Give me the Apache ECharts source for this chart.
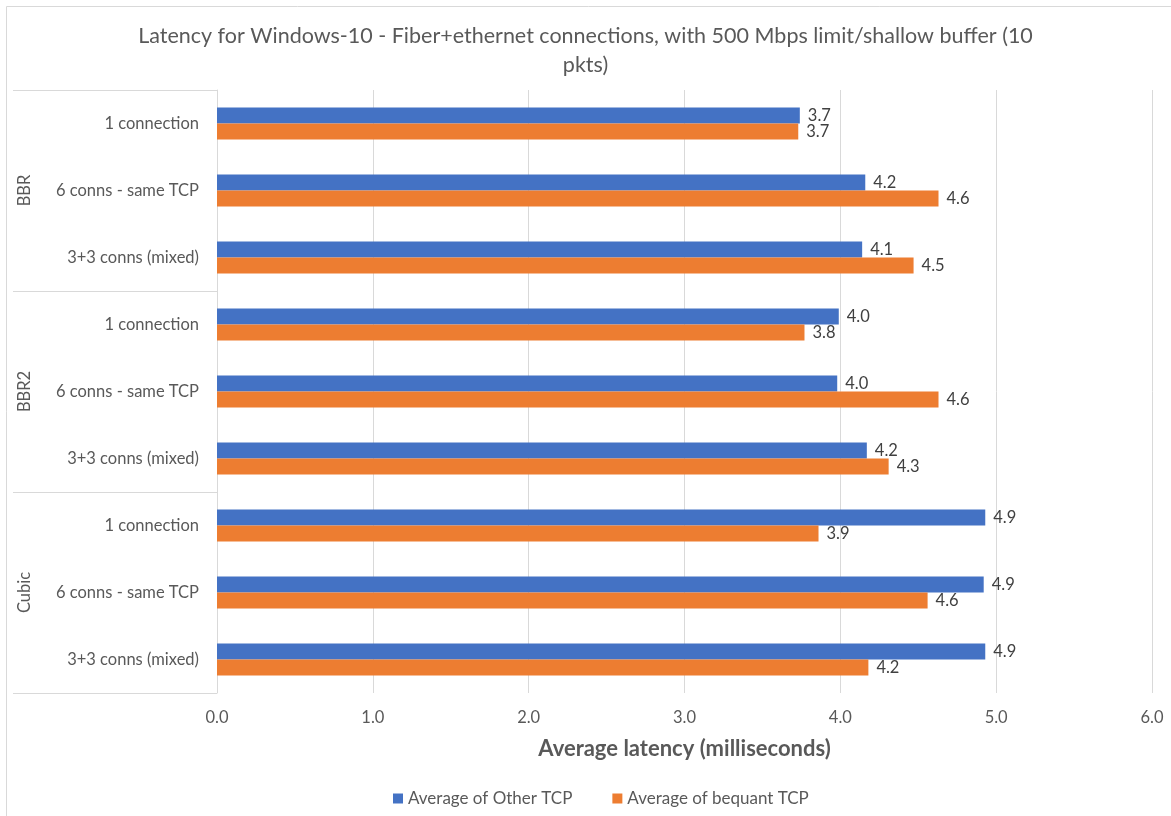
<!DOCTYPE html>
<html>
<head>
<meta charset="utf-8">
<script src="https://cdn.jsdelivr.net/npm/echarts@6/dist/echarts.min.js"></script>
<style>
  html, body { margin: 0; padding: 0; background: #fff; }
  #chart { width: 1171px; height: 816px; }
</style>
</head>
<body>
<div id="chart"></div>
<script>
  // row labels, top to bottom
  const groups = ['BBR', 'BBR2', 'Cubic'];
  const subCats = ['1 connection', '6 conns - same TCP', '3+3 conns (mixed)'];
  const rowLabels = [].concat(subCats, subCats, subCats);

  // average latency in ms
  const otherTcp = [3.74, 4.16, 4.14, 3.99, 3.98, 4.17, 4.93, 4.92, 4.93];
  const bequantTcp = [3.73, 4.63, 4.47, 3.77, 4.63, 4.31, 3.86, 4.56, 4.18];

  const xTicks = [0, 1, 2, 3, 4, 5, 6];

  const font = 'Lato, "Open Sans", sans-serif';
  const grey = '#595959';
  const lineGrey = '#d9d9d9';

  let chart = echarts.init(document.getElementById('chart'));

  function barLabel() {
    return {
      show: true,
      position: 'right',
      distance: 8,
      fontFamily: font,
      fontSize: 16.5,
      color: '#404040',
      formatter: p => p.value.toFixed(1)
    };
  }

  chart.setOption({
    animation: false,
    textStyle: { fontFamily: font },
    title: {
      text: 'Latency for Windows-10 - Fiber+ethernet connections, with 500 Mbps limit/shallow buffer (10\npkts)',
      left: 'center',
      top: 17,
      textStyle: {
        fontFamily: font,
        fontSize: 21.5,
        fontWeight: 'normal',
        color: grey,
        lineHeight: 29
      }
    },
    graphic: [
      { type: 'line', shape: { x1: 6.5, y1: 6.5, x2: 1171, y2: 6.5 }, style: { stroke: lineGrey, lineWidth: 1 } },
      { type: 'line', shape: { x1: 6.5, y1: 6.5, x2: 6.5, y2: 816 }, style: { stroke: lineGrey, lineWidth: 1 } }
    ],
    legend: {
      top: 785,
      left: 388,
      icon: 'rect',
      itemWidth: 10,
      itemHeight: 10,
      itemGap: 40,
      textStyle: { fontFamily: font, fontSize: 17, color: grey }
    },
    grid: {
      left: 217,
      right: 19,
      top: 90,
      bottom: 123
    },
    xAxis: {
      type: 'value',
      min: xTicks[0],
      max: xTicks[xTicks.length - 1],
      interval: 1,
      name: 'Average latency (milliseconds)',
      nameLocation: 'middle',
      nameGap: 45,
      nameTextStyle: {
        fontFamily: font,
        fontSize: 22,
        fontWeight: 'bold',
        color: grey
      },
      axisLine: { show: false },
      axisTick: { show: false },
      axisLabel: {
        margin: 16,
        fontFamily: font,
        fontSize: 16.5,
        color: grey,
        formatter: v => v.toFixed(1)
      },
      splitLine: {
        show: true,
        lineStyle: { color: lineGrey }
      }
    },
    yAxis: [
      {
        type: 'category',
        inverse: true,
        data: rowLabels,
        axisLine: {
          show: true,
          lineStyle: { color: lineGrey }
        },
        axisTick: { show: false },
        axisLabel: {
          margin: 18,
          fontFamily: font,
          fontSize: 16.5,
          color: grey
        }
      },
      {
        type: 'category',
        inverse: true,
        position: 'left',
        data: groups,
        axisLine: { show: false },
        axisTick: {
          show: true,
          length: 204,
          lineStyle: { color: lineGrey }
        },
        axisLabel: {
          rotate: 90,
          margin: 184,
          fontFamily: font,
          fontSize: 16.5,
          color: grey
        }
      }
    ],
    series: [
      {
        name: 'Average of Other TCP',
        type: 'bar',
        yAxisIndex: 0,
        barWidth: 16,
        barGap: '0%',
        itemStyle: { color: '#4472C4' },
        label: barLabel(),
        data: otherTcp
      },
      {
        name: 'Average of bequant TCP',
        type: 'bar',
        yAxisIndex: 0,
        barWidth: 16,
        barGap: '0%',
        itemStyle: { color: '#ED7D31' },
        label: barLabel(),
        data: bequantTcp
      }
    ]
  });
</script>
</body>
</html>
